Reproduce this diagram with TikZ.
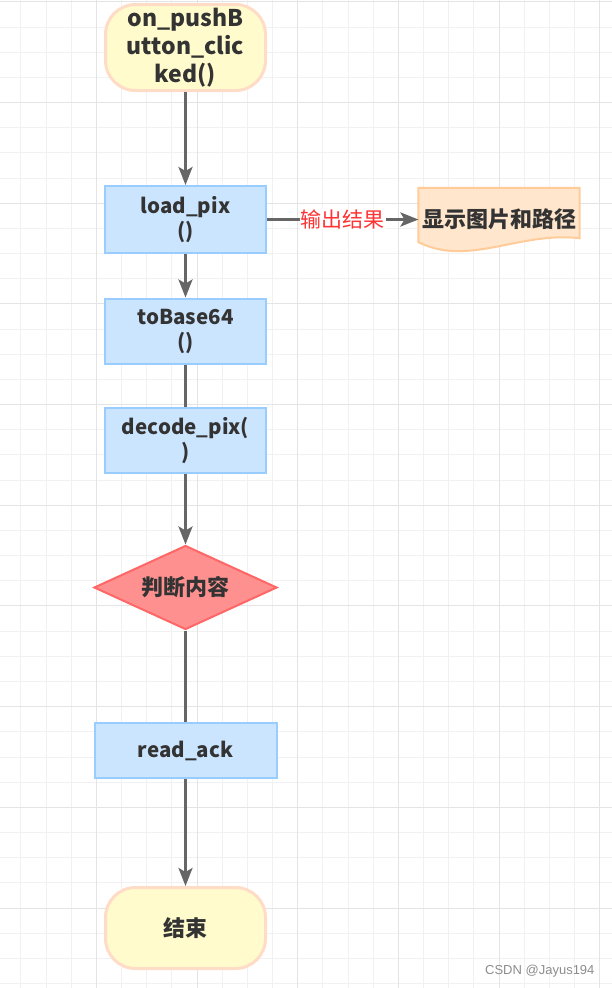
\documentclass[tikz,border=0pt]{standalone}
\usepackage{fontspec}
\setmainfont{Noto Sans CJK SC}
\setsansfont{Liberation Sans}
\usetikzlibrary{positioning,arrows.meta,shapes.geometric,backgrounds}

\definecolor{gridminor}{HTML}{F1F1F1}
\definecolor{gridmajor}{HTML}{E4E4E4}
\definecolor{termfill}{HTML}{FFFBCC}
\definecolor{termdraw}{HTML}{FFDCC6}
\definecolor{procfill}{HTML}{CCE5FF}
\definecolor{procdraw}{HTML}{99CCFF}
\definecolor{decfill}{HTML}{FF9090}
\definecolor{decdraw}{HTML}{FF6666}
\definecolor{docfill}{HTML}{FFE6CC}
\definecolor{docdraw}{HTML}{FFCC99}
\definecolor{linkgray}{HTML}{666666}
\definecolor{labelred}{HTML}{FF3333}

\begin{document}
\begin{tikzpicture}[x=1pt,y=-1pt]
    \useasboundingbox (0,0) rectangle (612,988);

    % background grid
    \begin{scope}[on background layer, line width=1.5pt]
    \foreach \k in {0,...,23} \draw[gridminor] ({20.6+25.17*\k},0) -- ({20.6+25.17*\k},988);
    \foreach \k in {0,...,39} \draw[gridminor] (0,{1.6+25.17*\k}) -- (612,{1.6+25.17*\k});
    \foreach \m in {0,...,5} \draw[gridmajor] ({96.1+100.68*\m},0) -- ({96.1+100.68*\m},988);
    \foreach \m in {0,...,9} \draw[gridmajor] (0,{1.6+100.68*\m}) -- (612,{1.6+100.68*\m});
    \end{scope}

    \begin{scope}[on grid, >={Stealth[width=14pt,length=18pt,inset=4pt]}, text centered,
    		font=\fontsize{20.5}{25}\selectfont\bfseries, text=black!80,
    		terminal/.style={rectangle,rounded corners=30pt,draw=termdraw,fill=termfill,line width=3pt,minimum width=160pt},
    		block/.style={rectangle,draw=procdraw,fill=procfill,line width=2pt,minimum width=161pt,minimum height=65pt},
    		decision/.style={diamond,aspect=2.2,inner sep=0pt,draw=decdraw,fill=decfill,line width=2pt,minimum width=183pt,minimum height=84pt},
    		cjktext/.style={font=\fontsize{22}{26}\selectfont\bfseries},
    		labeltext/.style={fill=white,text=labelred,inner sep=1pt,font=\fontsize{21}{25}\selectfont},
    		arrow/.style={linkgray, line width=3pt, ->}]

    \node[terminal] (start) [minimum height=86pt, font=\fontsize{23}{28}\selectfont\bfseries, align=center] at (185.5,47.5) {on\_pushB\\utton\_clic\\ked()};
    \node[block] (load) [below=172pt of start, minimum height=67pt, align=center] {load\_pix\\()};
    \node[block] (toBase) [below=111.5pt of load, align=center] {toBase64\\()};
    \node[block] (decode) [below=109.5pt of toBase, align=center] {decode\_pix(\\)};
    \node[decision, cjktext] (check) [below=147pt of decode] {判断内容};
    \node[block] (read) [below=163pt of check, minimum width=182pt, minimum height=55pt] {read\_ack};
    \node[terminal, cjktext] (finish) [below=177.5pt of read, minimum height=81pt] {结束};

    \node[cjktext] (result) [right=313.5pt of load, minimum width=158pt, minimum height=63pt] {显示图片和路径};

    \node (mark) [anchor=east, text=black!45, font=\sffamily\fontsize{13}{15}\selectfont] at (598,971) {CSDN @Jayus194};

    \begin{scope}[on background layer]
    \draw[docdraw, fill=docfill, line width=2pt] (result.north west) -- ([yshift=9pt]result.south west)
    	.. controls ([xshift=50pt,yshift=-16pt]result.south west) and ([xshift=-60pt,yshift=20pt]result.south east) .. ([yshift=13pt]result.south east)
    	-- (result.north east) -- cycle;
    \end{scope}

    \draw[arrow]
    (start) edge (load)
    (load) edge node[labeltext] {输出结果} (result)
    (load) edge (toBase)
    (toBase) edge[-] (decode)
    (decode) edge (check)
    (check) edge[-] (read)
    (read) edge (finish);

    \end{scope}
\end{tikzpicture}
\end{document}
